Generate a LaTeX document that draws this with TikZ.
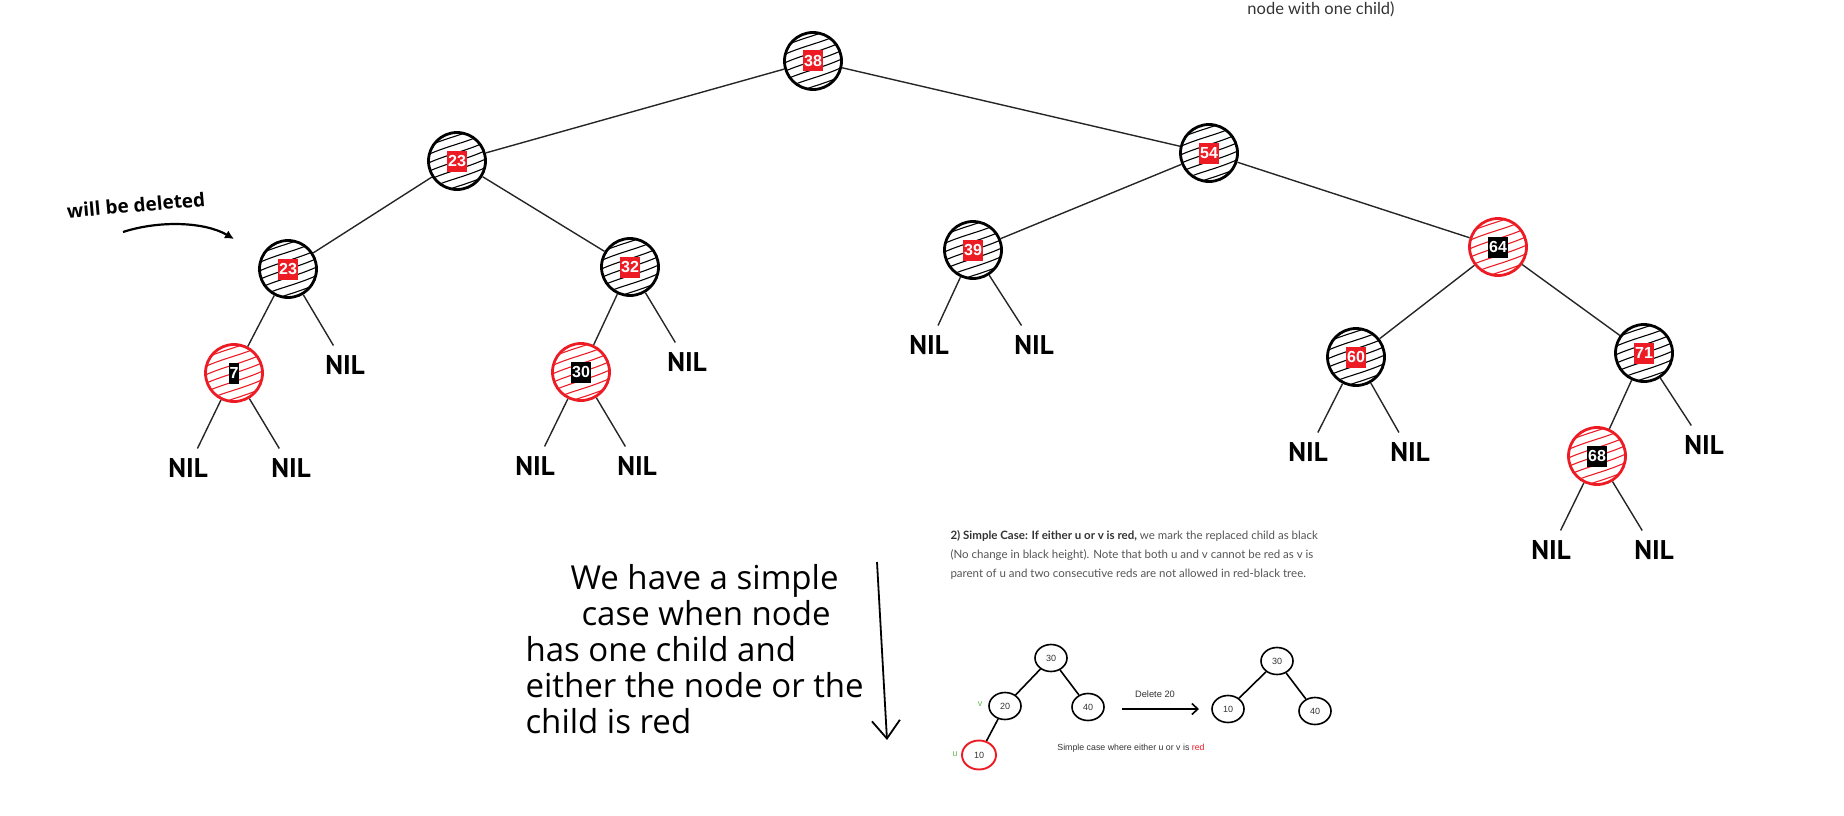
\documentclass[tikz,border=0pt]{standalone}
\usepackage{fontspec}
\setmainfont{Liberation Sans}
\newfontfamily\webfont{Lato}
\newfontfamily\handfont{Open Sans}
\newfontfamily\nilfont{PT Sans}
\usetikzlibrary{arrows.meta,shapes.geometric}

\definecolor{rbred}{RGB}{237,28,36}
\definecolor{webgrey}{RGB}{85,85,85}
\definecolor{webdark}{RGB}{51,51,51}
\definecolor{ugreen}{RGB}{100,185,80}

% one red-black tree node: name, position, ring colour, key box colour, key
\newcommand\rbn[5]{%
  \node[rbnode=#3] (#1) at (#2) {};
  \node[keybox=#4] (#1k) at (#1) {#5};}

\begin{document}
\begin{tikzpicture}[x=1pt,y=-1pt,
  edge/.style={line width=1.4pt, black!85},
  rbnode/.style={circle, draw=#1, line width=2.8pt, minimum size=57pt, inner sep=0pt,
    path picture={
      \foreach \k in {-4,...,4}{
        \draw[#1, line width=1.1pt]
          ([shift={(-34,\k*8.5+13)}]path picture bounding box.center)
          .. controls ([shift={(-12,\k*8.5+2)}]path picture bounding box.center)
          and ([shift={(10,\k*8.5-1)}]path picture bounding box.center)
          .. ([shift={(34,\k*8.5-13)}]path picture bounding box.center);
      }}},
  keybox/.style={fill=#1, text=white, font=\bfseries\fontsize{16}{16}\selectfont,
    inner xsep=1pt, inner ysep=0pt, minimum height=21pt},
  nil/.style={font=\nilfont\bfseries\fontsize{27}{27}\selectfont, inner sep=0pt,
    text height=19pt, text depth=0pt, outer sep=10pt},
  small/.style={ellipse, draw, line width=1.6pt, minimum width=32pt, minimum height=27pt,
    inner sep=0pt, text=webdark, font=\fontsize{9}{9}\selectfont},
  sedge/.style={line width=1.6pt},
  hand/.style={font=\handfont\fontsize{33}{36}\selectfont, align=left}]

\useasboundingbox (0,0) rectangle (1844,816);

% ---- main red-black tree ----
\rbn{n38}{813,61}{black}{rbred}{38}
\rbn{n23a}{457,161}{black}{rbred}{23}
\rbn{n54}{1209,153}{black}{rbred}{54}
\rbn{n23b}{288,269}{black}{rbred}{23}
\rbn{n32}{630,267}{black}{rbred}{32}
\rbn{n39}{973,250}{black}{rbred}{39}
\rbn{n64}{1498,247}{rbred}{black}{64}
\rbn{n7}{234,373}{rbred}{black}{7}
\rbn{n30}{581,372}{rbred}{black}{30}
\rbn{n60}{1356,357}{black}{rbred}{60}
\rbn{n71}{1644,353}{black}{rbred}{71}
\rbn{n68}{1597,456}{rbred}{black}{68}

\node[nil] (l1) at (345,365) {NIL};
\node[nil] (l2) at (188,468) {NIL};
\node[nil] (l3) at (291,468) {NIL};
\node[nil] (l4) at (687,362) {NIL};
\node[nil] (l5) at (535,466) {NIL};
\node[nil] (l6) at (637,466) {NIL};
\node[nil] (l7) at (929,345) {NIL};
\node[nil] (l8) at (1034,345) {NIL};
\node[nil] (l9) at (1308,452) {NIL};
\node[nil] (l10) at (1410,452) {NIL};
\node[nil] (l11) at (1704,445) {NIL};
\node[nil] (l12) at (1551,550) {NIL};
\node[nil] (l13) at (1654,550) {NIL};

\draw[edge] (n38) -- (n23a);
\draw[edge] (n38) -- (n54);
\draw[edge] (n23a) -- (n23b);
\draw[edge] (n23a) -- (n32);
\draw[edge] (n54) -- (n39);
\draw[edge] (n54) -- (n64);
\draw[edge] (n23b) -- (n7);
\draw[edge] (n23b) -- (l1);
\draw[edge] (n7) -- (l2);
\draw[edge] (n7) -- (l3);
\draw[edge] (n32) -- (n30);
\draw[edge] (n32) -- (l4);
\draw[edge] (n30) -- (l5);
\draw[edge] (n30) -- (l6);
\draw[edge] (n39) -- (l7);
\draw[edge] (n39) -- (l8);
\draw[edge] (n64) -- (n60);
\draw[edge] (n64) -- (n71);
\draw[edge] (n60) -- (l9);
\draw[edge] (n60) -- (l10);
\draw[edge] (n71) -- (n68);
\draw[edge] (n71) -- (l11);
\draw[edge] (n68) -- (l12);
\draw[edge] (n68) -- (l13);

% ---- handwritten notes ----
\node[font=\handfont\bfseries\fontsize{19}{19}\selectfont, rotate=5] (del) at (136,205) {will be deleted};
\coordinate (wA) at (123,232);
\coordinate (wB) at (234,239);
\draw[line width=2.2pt, -{Latex[length=9pt,width=9pt]}] (wA) .. controls (160,220) and (205,222) .. (wB);

\node[hand, anchor=north west] (note) at (522,561)
  {\hspace*{45pt}We have a simple\\
   \hspace*{56pt}case when node\\
   has one child and\\
   either the node or the\\
   child is red};
\coordinate (hA) at (877,562);
\coordinate (hB) at (887,740);
\draw[line width=1.8pt, -{Straight Barb[length=18pt,width=28pt]}] (hA) -- (hB);

% ---- quoted explanation ----
\node[font=\webfont\fontsize{16.5}{17}\selectfont, text=webdark] (top) at (1321,9) {node with one child)};

\node[anchor=north west, align=left, text=webgrey, font=\webfont\fontsize{11.5}{18.8}\selectfont] (para) at (947,527)
  {{\bfseries\color{webdark}2) Simple Case: If either u or v is red,} we mark the replaced child as black\\
   (No change in black height). Note that both u and v cannot be red as v is\\
   parent of u and two consecutive reds are not allowed in red-black tree.};

% ---- small example ----
\node[small] (s30) at (1051,658) {30};
\node[small] (s20) at (1005,706) {20};
\node[small] (s40) at (1088,707) {40};
\node[small, draw=rbred, line width=1.9pt, minimum width=34pt, minimum height=29pt] (s10) at (979,755) {10};
\node[text=ugreen, font=\fontsize{9}{9}\selectfont] (sv) at (980,704) {v};
\node[text=ugreen, font=\fontsize{9}{9}\selectfont] (su) at (955,754) {u};
\draw[sedge] (s30) -- (s20);
\draw[sedge] (s30) -- (s40);
\draw[sedge] (s20) -- (s10);

\coordinate (aS) at (1122,709);
\coordinate (aE) at (1199,709);
\draw[sedge, -{Straight Barb[length=6pt,width=11pt]}] (aS) -- (aE);
\node[text=webdark, font=\fontsize{9.3}{9}\selectfont] (dl) at (1155,694) {Delete 20};

\node[small] (t30) at (1277,661) {30};
\node[small] (t10) at (1228,709) {10};
\node[small] (t40) at (1315,711) {40};
\draw[sedge] (t30) -- (t10);
\draw[sedge] (t30) -- (t40);

\node[text=webdark, font=\fontsize{8.8}{9}\selectfont] (cap) at (1131,748)
  {Simple case where either u or v is \textcolor{rbred}{red}};
\end{tikzpicture}
\end{document}
